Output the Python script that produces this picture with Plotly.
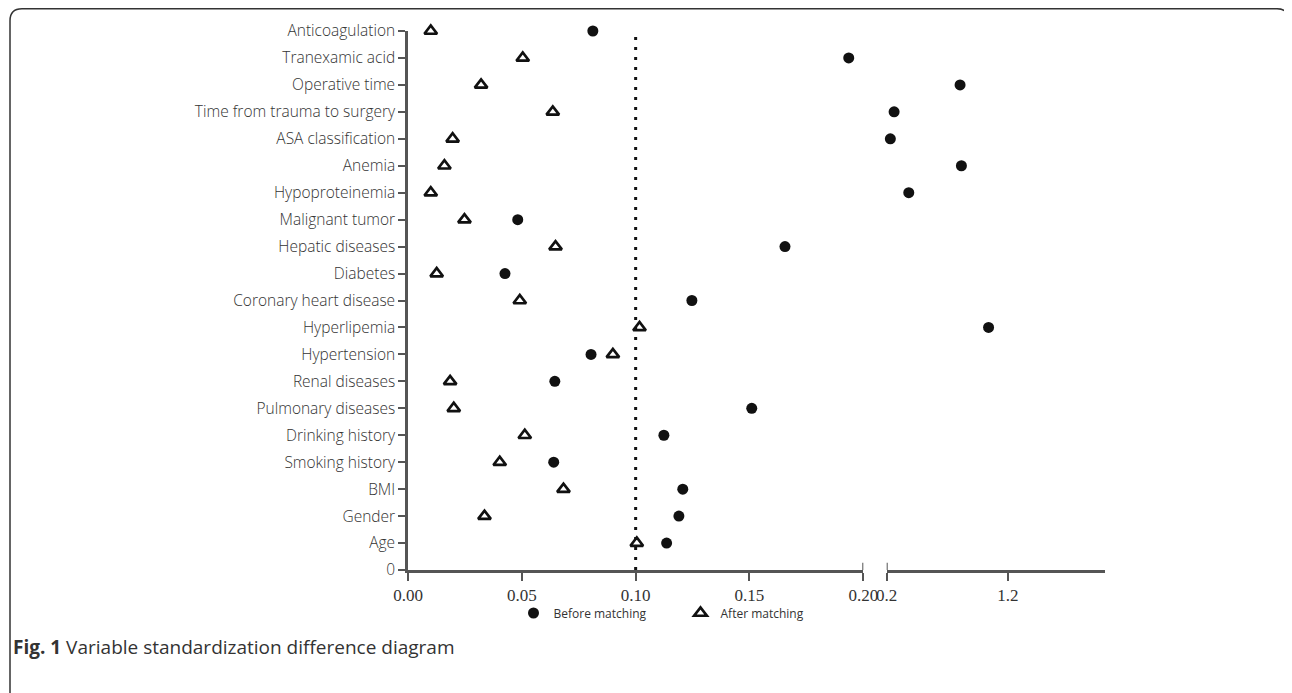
import plotly.graph_objects as go

# ---- data -------------------------------------------------------------
variables = ["Age", "Gender", "BMI", "Smoking history", "Drinking history",
             "Pulmonary diseases", "Renal diseases", "Hypertension", "Hyperlipemia",
             "Coronary heart disease", "Diabetes", "Hepatic diseases", "Malignant tumor",
             "Hypoproteinemia", "Anemia", "ASA classification",
             "Time from trauma to surgery", "Operative time", "Tranexamic acid",
             "Anticoagulation"]
before_matching = [0.1136, 0.119, 0.1207, 0.064, 0.1124,
                   0.151, 0.0645, 0.0804, 1.04,
                   0.1247, 0.0426, 0.1656, 0.0482,
                   0.382, 0.816, 0.230,
                   0.261, 0.805, 0.1936,
                   0.0812]
after_matching = [0.1005, 0.0336, 0.0683, 0.0403, 0.0513,
                  0.0201, 0.0185, 0.0900, 0.1017,
                  0.0491, 0.0126, 0.0648, 0.0248,
                  0.0100, 0.0160, 0.0196,
                  0.0636, 0.0321, 0.0504,
                  0.0100]
threshold = 0.10
break_at = 0.2
left_ticks = [0.0, 0.05, 0.10, 0.15, 0.20]
left_ticktext = ["0.00", "0.05", "0.10", "0.15", "0.20"]
right_ticks = [0.2, 1.2]
right_ticktext = ["0.2", "1.2"]
right_max = 2.0
caption_bold = "Fig. 1"
caption_text = "Variable standardization difference diagram"

# ---- layout geometry (pixels) -----------------------------------------
OFF = 8                       # page body margin of the HTML page
W, H = 1292 - OFF, 693 - OFF
ML, MR, MT, MB = 408 - OFF, 187, 31 - OFF, 0
PW, PH = W - ML - MR, H - MT - MB
AXIS_Y = 570                  # reference pixel row of the x axis


def px_x(p):
    """reference page pixel column -> paper x"""
    return (p - OFF - ML) / PW


def px_y(p):
    """reference page pixel row -> paper y"""
    return (H - (p - OFF)) / PH


y_pos = list(range(1, len(variables) + 1))

fig = go.Figure()

INK = "#111111"
AX = "#555555"


def add_series(vals, name, symbol, size, line_w):
    lx = [v for v in vals if v <= break_at]
    ly = [y for v, y in zip(vals, y_pos) if v <= break_at]
    rx = [v for v in vals if v > break_at]
    ry = [y for v, y in zip(vals, y_pos) if v > break_at]
    marker = dict(symbol=symbol, size=size, color=INK, line=dict(color=INK, width=line_w))
    fig.add_trace(go.Scatter(x=lx, y=ly, mode="markers", name=name, legendgroup=name,
                             marker=marker, xaxis="x", yaxis="y", cliponaxis=False))
    fig.add_trace(go.Scatter(x=rx, y=ry, mode="markers", name=name, legendgroup=name,
                             showlegend=False, marker=marker, xaxis="x2", yaxis="y",
                             cliponaxis=False))


# threshold dotted line
fig.add_trace(go.Scatter(x=[threshold, threshold], y=[0, len(variables)], mode="lines",
                         line=dict(color=INK, width=3, dash="3px,7px"),
                         showlegend=False, hoverinfo="skip", xaxis="x", yaxis="y"))

add_series(before_matching, "Before matching", "circle", 11, 0)
add_series(after_matching, "After matching", "triangle-up-open", 11, 2.7)

axis_common = dict(showline=True, linecolor=AX, linewidth=2.5, ticks="outside",
                   ticklen=8, tickwidth=2, tickcolor=AX, showgrid=False, zeroline=False,
                   tickfont=dict(family="Liberation Serif", size=17, color="#333333"))

x_split = px_x(863.3)
x2_start = px_x(886.7)
y_bottom = px_y(AXIS_Y)

fig.update_layout(
    width=W, height=H,
    margin=dict(l=ML, r=MR, t=MT, b=MB, autoexpand=False),
    paper_bgcolor="white", plot_bgcolor="white",
    xaxis=dict(domain=[0, x_split], range=[0, break_at], tickvals=left_ticks,
               ticktext=left_ticktext, anchor="y", **axis_common),
    xaxis2=dict(domain=[x2_start, 1], range=[break_at, right_max], tickvals=right_ticks,
                ticktext=right_ticktext, anchor="y", **axis_common),
    yaxis=dict(domain=[y_bottom, 1], range=[0, len(variables)], tickvals=[0] + y_pos,
               ticktext=["0"] + variables, showline=True, linecolor=AX, linewidth=2.5,
               ticks="outside", ticklen=7, tickwidth=2, tickcolor=AX, showgrid=False,
               zeroline=False,
               tickfont=dict(family="Open Sans", size=15.5, color="#333333", weight=300)),
    showlegend=True,
    legend=dict(orientation="h", xref="paper", yref="paper",
                x=px_x(513.5), xanchor="left", y=px_y(613), yanchor="middle",
                font=dict(family="Open Sans", size=12, color="#333333"),
                entrywidth=122, entrywidthmode="pixels", bgcolor="rgba(0,0,0,0)"),
)

shapes = []
# end caps at the axis break (extending above the axis line)
for xr in ["x", "x2"]:
    shapes.append(dict(type="line", xref=xr, yref="y", x0=break_at, x1=break_at,
                       y0=0, y1=0.27, line=dict(color=AX, width=2)))

# rounded frame around the figure
l, r, t, b = px_x(10), px_x(1289), px_y(OFF + 0.8), px_y(705)
rx, ry = 12 / PW, 12 / PH
path = (f"M {l + rx},{t} L {r - rx},{t} Q {r},{t} {r},{t - ry} "
        f"L {r},{b + ry} Q {r},{b} {r - rx},{b} L {l + rx},{b} Q {l},{b} {l},{b + ry} "
        f"L {l},{t - ry} Q {l},{t} {l + rx},{t} Z")
shapes.append(dict(type="path", xref="paper", yref="paper", path=path,
                   line=dict(color="#333333", width=1.5)))
fig.update_layout(shapes=shapes)

fig.add_annotation(xref="paper", yref="paper", x=px_x(11), y=px_y(647),
                   xanchor="left", yanchor="middle", showarrow=False,
                   text=f"<b>{caption_bold}</b> {caption_text}",
                   font=dict(family="Open Sans", size=19, color="#333333"))

fig.write_html("out.html")
